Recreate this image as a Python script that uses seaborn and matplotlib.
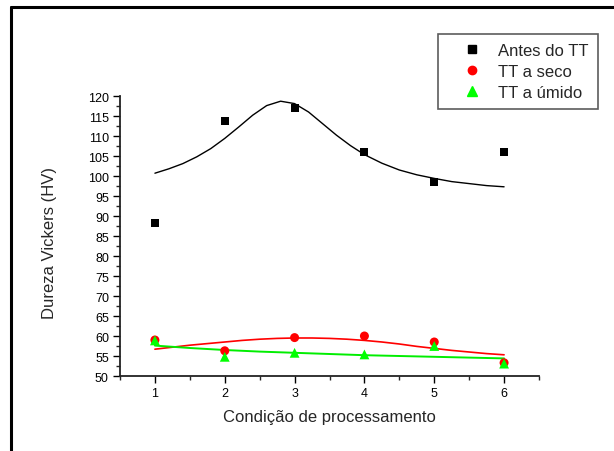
import matplotlib
matplotlib.use("Agg")
import matplotlib.pyplot as plt
import seaborn as sns
import pandas as pd
from matplotlib.lines import Line2D
from matplotlib.ticker import MultipleLocator

# ---- data ----
condicao = [1, 2, 3, 4, 5, 6]
antes_tt = [88.3, 113.7, 117.0, 106.0, 98.4, 106.0]
tt_seco = [59.0, 56.3, 59.6, 60.0, 58.5, 53.3]
tt_umido = [58.9, 54.8, 55.8, 55.4, 57.5, 53.1]

# fitted curves
fit_antes_x = [1.0, 1.2, 1.4, 1.6, 1.8, 2.0, 2.2, 2.4, 2.6, 2.8, 3.0, 3.2,
               3.4, 3.6, 3.8, 4.0, 4.25, 4.5, 4.75, 5.0, 5.25, 5.5, 5.75, 6.0]
fit_antes_y = [100.7, 101.8, 103.1, 104.8, 106.85, 109.4, 112.25, 115.2,
               117.6, 118.7, 118.1, 116.0, 113.1, 110.2, 107.6, 105.35,
               103.2, 101.5, 100.3, 99.4, 98.6, 98.1, 97.6, 97.3]
fit_seco_x = [1.0, 1.25, 1.5, 1.75, 2.0, 2.25, 2.5, 2.75, 3.0, 3.25, 3.5,
              3.75, 4.0, 4.25, 4.5, 4.75, 5.0, 5.25, 5.5, 5.75, 6.0]
fit_seco_y = [56.7, 57.2, 57.7, 58.1, 58.5, 58.9, 59.2, 59.4, 59.5, 59.5,
              59.4, 59.2, 58.9, 58.5, 58.0, 57.4, 56.9, 56.4, 56.0, 55.6, 55.3]
fit_umido_x = [1.0, 1.5, 2.0, 2.5, 3.0, 3.5, 4.0, 4.5, 5.0, 5.5, 6.0]
fit_umido_y = [57.6, 57.0, 56.5, 56.1, 55.8, 55.5, 55.2, 55.0, 54.8, 54.6, 54.4]

labels = ["Antes do TT", "TT a seco", "TT a úmido"]

pts = pd.DataFrame({
    "x": condicao * 3,
    "y": antes_tt + tt_seco + tt_umido,
    "serie": [labels[0]] * 6 + [labels[1]] * 6 + [labels[2]] * 6,
})

sns.set_style("ticks")
plt.rcParams["font.family"] = ["Liberation Sans", "DejaVu Sans"]

fig = plt.figure(figsize=(6.14, 4.52), dpi=100)
ax = fig.add_axes([120 / 614, 1 - 377 / 452, 419 / 614, 280 / 452])

# curves
sns.lineplot(x=fit_antes_x, y=fit_antes_y, ax=ax, color="black", lw=1.0, zorder=2)
sns.lineplot(x=fit_seco_x, y=fit_seco_y, ax=ax, color="#ff0000", lw=1.2, zorder=2)
sns.lineplot(x=fit_umido_x, y=fit_umido_y, ax=ax, color="#00ee00", lw=1.4, zorder=2)

# points
palette = {labels[0]: "black", labels[1]: "#ff0000", labels[2]: "#00ff00"}
markers = {labels[0]: "s", labels[1]: "o", labels[2]: "^"}
sizes = {labels[0]: 34, labels[1]: 42, labels[2]: 50}
for lab in labels:
    d = pts[pts["serie"] == lab]
    sns.scatterplot(data=d, x="x", y="y", ax=ax, color=palette[lab],
                    marker=markers[lab], s=sizes[lab], edgecolor="none",
                    linewidth=0, zorder=3, legend=False)

ax.set_xlim(0.5, 6.5)
ax.set_ylim(50, 120)
ax.set_xticks(condicao)
ax.xaxis.set_minor_locator(MultipleLocator(0.5))
ax.yaxis.set_major_locator(MultipleLocator(5))
ax.yaxis.set_minor_locator(MultipleLocator(2.5))
ax.tick_params(axis="both", which="major", direction="out", length=5, width=1.0,
               labelsize=9, pad=3, colors="black")
ax.tick_params(axis="both", which="minor", direction="out", length=3, width=1.0)

for s in ["top", "right"]:
    ax.spines[s].set_visible(False)
for s in ["left", "bottom"]:
    ax.spines[s].set_linewidth(1.3)
    ax.spines[s].set_color("#222222")

ax.set_xlabel("Condição de processamento", fontsize=12)
ax.set_ylabel("Dureza Vickers (HV)", fontsize=12)
ax.xaxis.set_label_coords(0.5, -0.118)
ax.yaxis.set_label_coords(-0.150, 0.48)

handles = [
    Line2D([], [], ls="none", marker="s", color="black", markersize=5.5),
    Line2D([], [], ls="none", marker="o", color="#ff0000", markersize=6),
    Line2D([], [], ls="none", marker="^", color="#00ff00", markersize=6.5),
]
leg = fig.legend(handles, labels, loc="upper left",
                 bbox_to_anchor=(438 / 614, 1 - 35 / 452), fontsize=12,
                 frameon=True, fancybox=False, shadow=False,
                 handlelength=3.0, handletextpad=0.05, borderpad=0.55,
                 labelspacing=0.36, borderaxespad=0)
leg.get_frame().set_edgecolor("#333333")
leg.get_frame().set_linewidth(1.2)

# outer frame (left and top lines)
fig.add_artist(Line2D([11 / 614, 11 / 614], [0, 1 - 8 / 452],
                      transform=fig.transFigure, color="black", lw=2.2))
fig.add_artist(Line2D([11 / 614, 1], [1 - 8 / 452, 1 - 8 / 452],
                      transform=fig.transFigure, color="black", lw=2.2))

fig.savefig("out.png", dpi=100)
